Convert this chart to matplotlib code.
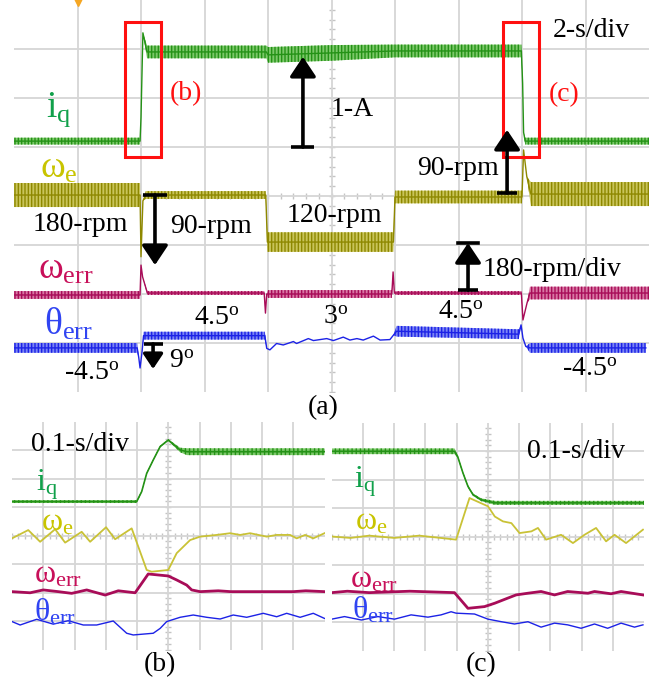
import numpy as np
import matplotlib
matplotlib.use('Agg')
import matplotlib.pyplot as plt
from matplotlib.patches import Rectangle, ArrowStyle

plt.rcParams['font.family'] = ['Liberation Serif', 'DejaVu Serif']
plt.rcParams['mathtext.fontset'] = 'custom'
plt.rcParams['mathtext.rm'] = 'Liberation Serif'
plt.rcParams['mathtext.it'] = 'Liberation Serif:italic'
plt.rcParams['mathtext.bf'] = 'Liberation Serif:bold'
plt.rcParams['hatch.linewidth'] = 1.0

# ---------------- data: panel (a)  (time in s, level in scope divisions) -------------
a_iq_t = [0, 3.97, 4.0, 4.06, 4.19, 7.95, 8.0, 10.0, 12.0, 15.98, 16.02, 16.05, 16.1, 20]
a_iq_y = [5.12, 5.12, 5.6, 7.33, 6.94, 6.94, 6.88, 6.92, 6.96, 6.96, 6.3, 5.3, 5.12, 5.12]
a_iq_hw = [0.07, 0.07, 0, 0, 0.13, 0.13, 0.16, 0.16, 0.13, 0.13, 0, 0, 0.07, 0.07]

a_we_t = [0, 3.97, 4.0, 4.06, 4.15, 7.93, 7.98, 11.95, 12.0, 16.0, 16.05, 16.15, 16.28, 20]
a_we_y = [4.02, 4.02, 2.76, 3.9, 4.02, 4.02, 3.06, 3.06, 3.98, 3.98, 4.94, 4.4, 4.04, 4.04]
a_we_hw = [0.245, 0.245, 0, 0, 0.08, 0.08, 0.2, 0.2, 0.13, 0.13, 0, 0, 0.245, 0.245]

a_wr_t = [0, 3.97, 4.0, 4.05, 4.2, 7.88, 7.92, 7.96, 8.0, 11.9, 11.94, 11.98, 12.02,
          15.98, 16.03, 16.16, 16.25, 20]
a_wr_y = [1.98, 1.98, 2.59, 2.35, 2.02, 2.02, 1.61, 2.0, 2.0, 2.0, 2.45, 2.02, 2.02,
          2.02, 1.47, 1.82, 2.02, 2.02]
a_wr_hw = [0.08, 0.08, 0, 0, 0.04, 0.04, 0, 0, 0.08, 0.08, 0, 0, 0.04,
           0.04, 0, 0, 0.13, 0.13]

a_th_t = [0, 3.88, 3.93, 3.97, 4.03, 4.08, 7.9, 7.96, 8.06, 8.27, 8.48, 8.80, 8.90, 9.27,
          9.43, 9.64, 9.85, 10.06, 10.37, 10.58, 10.80, 11.00, 11.32, 11.53, 11.84, 11.95,
          12.05, 15.9, 15.97, 16.03, 16.12, 16.25, 19.9]
a_th_y = [0.90, 0.90, 0.70, 0.49, 0.80, 1.15, 1.15, 0.89, 0.86, 0.99, 0.96, 1.03, 0.99, 1.09,
          1.05, 1.07, 1.09, 1.05, 1.12, 1.06, 1.09, 1.06, 1.14, 1.06, 1.07, 1.16,
          1.24, 1.18, 1.37, 1.10, 0.93, 0.90, 0.90]
a_th_hw = [0.10, 0.10, 0, 0, 0, 0.08, 0.08, 0, 0, 0, 0, 0, 0, 0,
           0, 0, 0, 0, 0, 0, 0, 0, 0, 0, 0, 0,
           0.11, 0.10, 0, 0, 0, 0.10, 0.10]

# ---------------- data: panel (b) -------------
b_iq_t = [0.0, 0.399, 0.415, 0.431, 0.452, 0.474, 0.50, 0.538, 0.56, 1.0]
b_iq_y = [5.19, 5.19, 5.54, 6.18, 6.65, 7.12, 7.35, 7.0, 6.94, 6.94]
b_iq_hw = [0.05, 0.05, 0.03, 0.03, 0.03, 0.03, 0.03, 0.08, 0.12, 0.12]

b_we_t = [0.0, 0.052, 0.090, 0.138, 0.170, 0.223, 0.250, 0.301, 0.330, 0.383, 0.431, 0.447,
          0.500, 0.527, 0.570, 0.602, 0.655, 0.698, 0.730, 0.762, 0.815, 0.847, 0.890,
          0.911, 0.938, 0.964, 1.0]
b_we_y = [3.90, 4.19, 3.78, 4.22, 3.75, 4.13, 3.78, 4.29, 3.87, 4.25, 2.79, 2.73,
          2.79, 3.38, 3.84, 3.96, 4.02, 4.08, 4.02, 4.08, 3.96, 4.02, 4.02,
          3.90, 4.02, 3.90, 4.08]

b_wr_t = [0.0, 0.058, 0.100, 0.148, 0.191, 0.239, 0.298, 0.340, 0.394, 0.436, 0.500, 0.527,
          0.559, 0.575, 0.602, 0.66, 0.70, 0.90, 0.94, 1.0]
b_wr_y = [2.03, 1.99, 2.09, 2.03, 1.97, 2.09, 1.91, 2.06, 1.99, 2.65, 2.58, 2.44,
          2.26, 2.09, 2.03, 2.06, 2.03, 2.03, 2.06, 2.03]

b_th_t = [0.0, 0.026, 0.079, 0.132, 0.180, 0.228, 0.271, 0.324, 0.367, 0.388, 0.452, 0.474,
          0.495, 0.538, 0.580, 0.623, 0.666, 0.708, 0.751, 0.804, 0.847, 0.879, 0.922,
          0.964, 1.0]
b_th_y = [0.98, 0.86, 1.06, 0.89, 1.01, 0.86, 0.86, 1.00, 0.57, 0.51, 0.57, 0.74,
          0.98, 1.13, 1.21, 1.13, 1.07, 1.21, 1.13, 1.27, 1.15, 1.27, 1.13,
          1.27, 1.09]

# ---------------- data: panel (c) -------------
c_iq_t = [0.0, 0.393, 0.403, 0.42, 0.436, 0.452, 0.478, 0.522, 1.0]
c_iq_y = [6.99, 6.99, 6.81, 6.23, 5.76, 5.47, 5.29, 5.18, 5.18]
c_iq_hw = [0.1, 0.1, 0.04, 0.04, 0.04, 0.04, 0.05, 0.07, 0.07]

c_we_t = [0.0, 0.06, 0.12, 0.2, 0.28, 0.34, 0.398, 0.441, 0.5, 0.522, 0.548, 0.575,
          0.601, 0.639, 0.66, 0.686, 0.734, 0.772, 0.809, 0.846, 0.878, 0.905, 0.942, 0.996]
c_we_y = [4.0, 3.95, 4.03, 3.95, 4.03, 3.96, 3.89, 5.35, 5.06, 4.70, 4.53, 4.47,
          4.12, 4.18, 4.30, 3.89, 4.06, 3.77, 4.06, 4.30, 3.83, 4.06, 3.77, 4.24]

c_wr_t = [0.0, 0.05, 0.12, 0.25, 0.393, 0.436, 0.489, 0.522, 0.564, 0.59, 0.628, 0.67,
          0.713, 0.755, 0.82, 0.841, 0.894, 0.926, 0.996]
c_wr_y = [2.03, 2.08, 2.03, 2.08, 2.03, 1.48, 1.54, 1.66, 1.84, 1.95, 2.01, 2.07,
          1.95, 2.07, 2.01, 2.07, 1.99, 2.07, 1.95]

c_th_t = [0.0, 0.041, 0.095, 0.148, 0.201, 0.254, 0.308, 0.35, 0.382, 0.398, 0.457, 0.5,
          0.543, 0.585, 0.628, 0.67, 0.713, 0.755, 0.798, 0.841, 0.883, 0.926, 0.969, 0.996]
c_th_y = [1.10, 1.19, 1.07, 1.19, 1.10, 1.25, 1.17, 1.25, 1.36, 1.31, 1.28, 1.10,
          1.01, 0.93, 1.01, 0.82, 0.96, 0.90, 0.78, 0.93, 0.78, 0.96, 0.82, 0.90]

# ---------------- colours -------------
C_IQ = '#249216'
C_IQ_FILL = '#7cc86a'
C_IQ_LBL = '#10a04a'
C_WE = '#8e8800'
C_WE_FILL = '#c9c45a'
C_WE_B = '#c9c236'
C_WE_LBL = '#c8c400'
C_WR = '#a80c58'
C_WR_FILL = '#d878a4'
C_WR_LBL = '#c8105a'
C_TH = '#1c22e6'
C_TH_FILL = '#7c86f4'
C_TH_LBL = '#3044f2'
C_GRID = '#d6d6d6'
C_RED = '#ff1010'

W, H = 658, 684
fig = plt.figure(figsize=(W / 100, H / 100), dpi=100)


def px_axes(left, top, right, bottom):
    return fig.add_axes([left / W, 1 - bottom / H, (right - left) / W, (bottom - top) / H])


def scope_axes(ax, tmax):
    ax.set_xlim(0, tmax)
    ax.set_ylim(0, 8)
    ax.set_xticks(np.arange(1, 10) * tmax / 10)
    ax.set_yticks(np.arange(1, 8))
    ax.grid(True, color=C_GRID, lw=1.3)
    ax.set_axisbelow(True)
    ax.tick_params(length=0, labelbottom=False, labelleft=False)
    for s in ax.spines.values():
        s.set_visible(False)
    # small division marks on the centre cross
    mt = np.arange(0, 50) * tmax / 50
    ax.plot(mt, np.full_like(mt, 4.0), ls='none', marker='|', ms=5, color='#c4c4c4',
            mew=1, zorder=0.5)
    my = np.arange(0, 40) * 0.2
    ax.plot(np.full_like(my, tmax / 2), my, ls='none', marker='_', ms=5, color='#c4c4c4',
            mew=1, zorder=0.5)


def band_trace(ax, t, y, hw, color, fill, lw=1.0, hatch='|||||'):
    t = np.asarray(t); y = np.asarray(y); hw = np.asarray(hw)
    ax.fill_between(t, y - hw, y + hw, facecolor=fill, edgecolor=color, hatch=hatch,
                    lw=0, zorder=2)
    ax.plot(t, y, color=color, lw=lw, zorder=3)


def arrow(ax, base, tip, bar_hw, ms=40, lw=2.6):
    ax.annotate('', xy=tip, xytext=base,
                arrowprops=dict(arrowstyle=ArrowStyle('-|>', head_length=0.3, head_width=0.2),
                                color='k', lw=lw, mutation_scale=ms, shrinkA=0, shrinkB=0),
                zorder=6)
    ax.plot([base[0] - bar_hw, base[0] + bar_hw], [base[1], base[1]], color='k', lw=lw,
            zorder=6, solid_capstyle='butt')


# ================= panel (a) =================
axa = px_axes(14, 0, 649, 392)
scope_axes(axa, 20)
band_trace(axa, a_iq_t, a_iq_y, a_iq_hw, C_IQ, C_IQ_FILL)
band_trace(axa, a_we_t, a_we_y, a_we_hw, C_WE, C_WE_FILL)
band_trace(axa, a_wr_t, a_wr_y, a_wr_hw, C_WR, C_WR_FILL)
band_trace(axa, a_th_t, a_th_y, a_th_hw, C_TH, C_TH_FILL)
axa.plot([2.0], [8.0], marker='v', ms=8, color='#f5a623', clip_on=False, zorder=7)

for x0 in (3.50, 15.40):
    axa.add_patch(Rectangle((x0, 4.80), 1.13, 2.75, fill=False, ec=C_RED, lw=2.2, zorder=5))

BIG = 27
MID = 20
axa.text(1.42, 5.76, r'$\mathrm{i}_\mathrm{q}$', color=C_IQ_LBL, fontsize=BIG, ha='center', va='center')
axa.text(1.40, 4.56, r'$\mathrm{ω}_\mathrm{e}$', color=C_WE_LBL, fontsize=BIG, ha='center', va='center')
axa.text(1.64, 2.51, r'$\mathrm{ω}_\mathrm{err}$', color=C_WR_LBL, fontsize=BIG, ha='center', va='center')
axa.text(1.72, 1.37, r'$\mathrm{θ}_\mathrm{err}$', color=C_TH_LBL, fontsize=BIG, ha='center', va='center')
axa.text(5.43, 6.09, '(b)', color=C_RED, fontsize=MID, ha='center', va='center')
axa.text(17.32, 6.06, '(c)', color=C_RED, fontsize=MID, ha='center', va='center')
axa.text(10.66, 5.76, '1-A', fontsize=MID, ha='center', va='center')
axa.text(18.17, 7.37, '2-s/div', fontsize=MID, ha='center', va='center')
axa.text(14.0, 4.57, '90-rpm', fontsize=MID, ha='center', va='center')
axa.text(2.08, 3.41, '180-rpm', fontsize=MID, ha='center', va='center')
axa.text(6.20, 3.37, '90-rpm', fontsize=MID, ha='center', va='center')
axa.text(10.08, 3.61, '120-rpm', fontsize=MID, ha='center', va='center')
axa.text(16.94, 2.49, '180-rpm/div', fontsize=MID, ha='center', va='center')
axa.text(6.38, 1.51, r'4.5$^{\mathrm{o}}$', fontsize=MID, ha='center', va='center')
axa.text(10.14, 1.53, r'3$^{\mathrm{o}}$', fontsize=MID, ha='center', va='center')
axa.text(14.09, 1.63, r'4.5$^{\mathrm{o}}$', fontsize=MID, ha='center', va='center')
axa.text(2.43, 0.37, r'-4.5$^{\mathrm{o}}$', fontsize=MID, ha='center', va='center')
axa.text(18.14, 0.45, r'-4.5$^{\mathrm{o}}$', fontsize=MID, ha='center', va='center')
axa.text(5.28, 0.63, r'9$^{\mathrm{o}}$', fontsize=MID, ha='center', va='center')
axa.text(9.75, -0.31, '(a)', fontsize=MID, ha='center', va='center', clip_on=False)

arrow(axa, (9.10, 5.0), (9.10, 6.84), 0.36)
arrow(axa, (15.53, 4.06), (15.53, 5.35), 0.32)
arrow(axa, (4.44, 4.02), (4.44, 2.59), 0.38)
arrow(axa, (14.30, 2.08), (14.30, 3.04), 0.32)
axa.plot([14.30 - 0.32, 14.30 + 0.32], [3.04, 3.04], color='k', lw=2.6, zorder=6)
arrow(axa, (4.38, 0.98), (4.38, 0.47), 0.30, ms=30)

# ================= panel (b) =================
SM = 23
axb = px_axes(12, 421.5, 324.5, 649.5)
scope_axes(axb, 1.0)
band_trace(axb, b_iq_t, b_iq_y, b_iq_hw, C_IQ, C_IQ_FILL, lw=1.2, hatch='||||')
axb.plot(b_we_t, b_we_y, color=C_WE_B, lw=1.3, zorder=3)
axb.plot(b_wr_t, b_wr_y, color=C_WR, lw=2.0, zorder=3)
axb.plot(b_th_t, b_th_y, color=C_TH, lw=1.0, zorder=3)

axb.text(0.218, 7.18, '0.1-s/div', fontsize=MID, ha='center', va='center')
axb.text(0.112, 5.77, r'$\mathrm{i}_\mathrm{q}$', color=C_IQ_LBL, fontsize=SM, ha='center', va='center')
axb.text(0.144, 4.44, r'$\mathrm{ω}_\mathrm{e}$', color=C_WE_LBL, fontsize=SM, ha='center', va='center')
axb.text(0.146, 2.61, r'$\mathrm{ω}_\mathrm{err}$', color=C_WR_LBL, fontsize=SM, ha='center', va='center')
axb.text(0.138, 1.32, r'$\mathrm{θ}_\mathrm{err}$', color=C_TH_LBL, fontsize=SM, ha='center', va='center')
axb.text(0.474, -0.54, '(b)', fontsize=MID, ha='center', va='center', clip_on=False)

# ================= panel (c) =================
axc = px_axes(331.7, 422.5, 644.2, 650.5)
scope_axes(axc, 1.0)
band_trace(axc, c_iq_t, c_iq_y, c_iq_hw, C_IQ, C_IQ_FILL, lw=1.2, hatch='||||')
axc.plot(c_we_t, c_we_y, color=C_WE_B, lw=1.3, zorder=3)
axc.plot(c_wr_t, c_wr_y, color=C_WR, lw=2.0, zorder=3)
axc.plot(c_th_t, c_th_y, color=C_TH, lw=1.0, zorder=3)

axc.text(0.783, 6.98, '0.1-s/div', fontsize=MID, ha='center', va='center')
axc.text(0.107, 5.92, r'$\mathrm{i}_\mathrm{q}$', color=C_IQ_LBL, fontsize=SM, ha='center', va='center')
axc.text(0.126, 4.52, r'$\mathrm{ω}_\mathrm{e}$', color=C_WE_LBL, fontsize=SM, ha='center', va='center')
axc.text(0.135, 2.48, r'$\mathrm{ω}_\mathrm{err}$', color=C_WR_LBL, fontsize=SM, ha='center', va='center')
axc.text(0.132, 1.42, r'$\mathrm{θ}_\mathrm{err}$', color=C_TH_LBL, fontsize=SM, ha='center', va='center')
axc.text(0.478, -0.51, '(c)', fontsize=MID, ha='center', va='center', clip_on=False)

fig.savefig('out.png', dpi=100)
